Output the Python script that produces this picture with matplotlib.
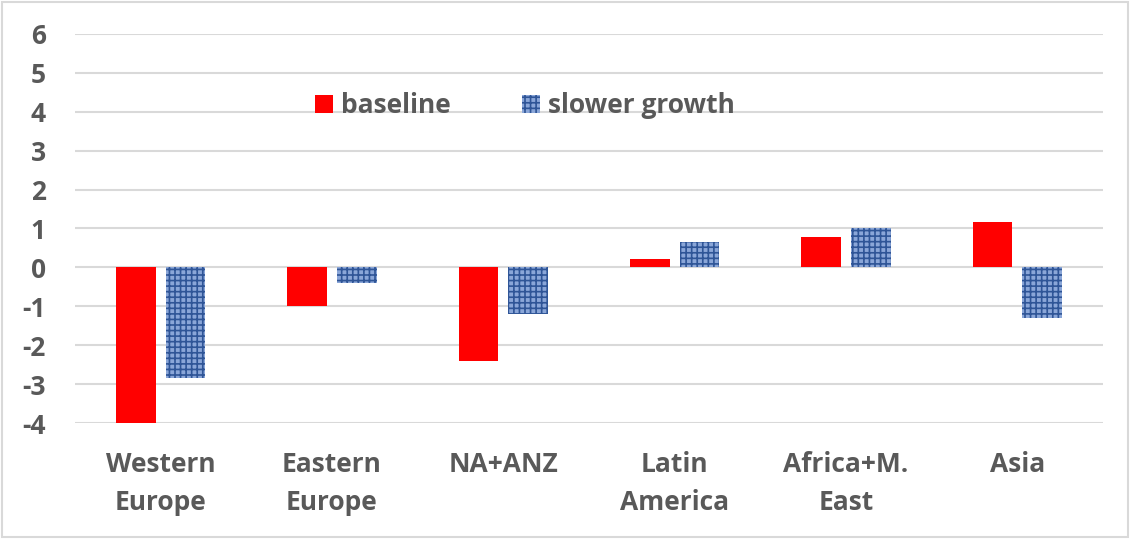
import numpy as np
import matplotlib.pyplot as plt
from matplotlib.patches import Rectangle

# regions and scenario values
regions = ['Western\nEurope', 'Eastern\nEurope', 'NA+ANZ', 'Latin\nAmerica', 'Africa+M.\nEast', 'Asia']
baseline = [-4.05, -1.0, -2.4, 0.22, 0.77, 1.17]
slower_growth = [-2.85, -0.4, -1.2, 0.65, 1.0, -1.3]

plt.rcParams['font.family'] = ['Open Sans', 'DejaVu Sans']
plt.rcParams['font.weight'] = 'bold'
plt.rcParams['axes.unicode_minus'] = False
plt.rcParams['hatch.linewidth'] = 1.2
grey = '#595959'

fig = plt.figure(figsize=(11.3, 5.39), dpi=100)
ax = fig.add_axes([75 / 1130, 116 / 539, 1028 / 1130, 389 / 539])

x = np.arange(len(regions))
w = 0.23
ax.bar(x - 0.145, baseline, w, color='#ff0000', label='baseline', zorder=3)
ax.bar(x + 0.145, slower_growth, w, facecolor='#8aa6d8', edgecolor='#2f5597',
       hatch='+++', linewidth=0, label='slower growth', zorder=3)

ax.set_xlim(-0.5, len(regions) - 0.5)
ax.set_ylim(-4, 6)
ax.set_yticks(range(-4, 7))
ax.set_xticks(x)
ax.set_xticklabels(regions, fontsize=19, fontweight='bold', color=grey, linespacing=1.55)
ax.tick_params(axis='y', labelsize=19, labelcolor=grey, length=0, pad=21)
ax.tick_params(axis='x', length=0, pad=20)

ax.grid(axis='y', color='#d9d9d9', linewidth=1.5, zorder=0)
for s in ax.spines.values():
    s.set_visible(False)

ax.legend(loc='upper left', bbox_to_anchor=(0.21, 0.912), ncol=2, frameon=False,
          labelcolor=grey, prop={'weight': 'bold', 'size': 19},
          handlelength=0.7, handleheight=0.7, columnspacing=2.7, handletextpad=0.3)

# light border around the figure
fig.patches.append(Rectangle((0.002, 0.003), 0.996, 0.994, transform=fig.transFigure,
                             fill=False, edgecolor='#d9d9d9', linewidth=1.5))

fig.savefig('out.png', dpi=100)
